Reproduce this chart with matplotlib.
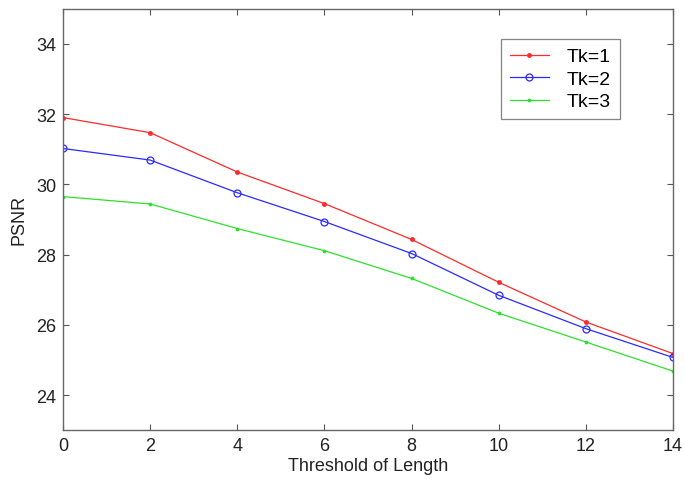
import matplotlib
matplotlib.use("Agg")
import matplotlib.pyplot as plt

plt.rcParams['font.family'] = ['Liberation Sans', 'DejaVu Sans']

thresholds = [0, 2, 4, 6, 8, 10, 12, 14]
psnr_tk1 = [31.90, 31.47, 30.35, 29.45, 28.43, 27.21, 26.08, 25.18]
psnr_tk2 = [31.02, 30.69, 29.76, 28.94, 28.03, 26.84, 25.89, 25.07]
psnr_tk3 = [29.65, 29.44, 28.74, 28.11, 27.32, 26.33, 25.51, 24.68]
series_labels = ['Tk=1', 'Tk=2', 'Tk=3']
x_ticks = [0, 2, 4, 6, 8, 10, 12, 14]
y_ticks = [24, 26, 28, 30, 32, 34]

fig = plt.figure(figsize=(6.85, 4.85), dpi=100)
ax = fig.add_axes([0.092, 0.111, 0.8905, 0.869])

ax.plot(thresholds, psnr_tk1, color='#ff2a2a', lw=0.9, marker='.', ms=5,
        label=series_labels[0])
ax.plot(thresholds, psnr_tk2, color='#2a2aff', lw=0.9, marker='o', ms=5,
        mfc='none', mew=0.9, label=series_labels[1])
ax.plot(thresholds, psnr_tk3, color='#2ee02e', lw=0.9, marker='.', ms=3.5,
        label=series_labels[2])

ax.set_xlim(0, 14)
ax.set_ylim(23, 35)
ax.set_xticks(x_ticks)
ax.set_yticks(y_ticks)
ax.tick_params(direction='in', length=4, width=0.8, colors='#555555',
               labelcolor='#222222', labelsize=13, top=True, right=True, pad=5)
for s in ax.spines.values():
    s.set_color('#666666')
    s.set_linewidth(1.0)

ax.set_xlabel('Threshold of Length', fontsize=13, color='#222222', labelpad=2)
ax.set_ylabel('PSNR', fontsize=13, color='#222222', labelpad=6)

leg = ax.legend(loc='upper left', bbox_to_anchor=(501 / 685, 1 - 40 / 485),
                bbox_transform=fig.transFigure, fontsize=14, frameon=True,
                fancybox=False, handlelength=2.0, borderpad=0.45,
                labelspacing=0.25, handletextpad=0.95, borderaxespad=0)
leg.get_frame().set_edgecolor('#666666')
leg.get_frame().set_linewidth(0.9)

fig.savefig('out.png', dpi=100)
